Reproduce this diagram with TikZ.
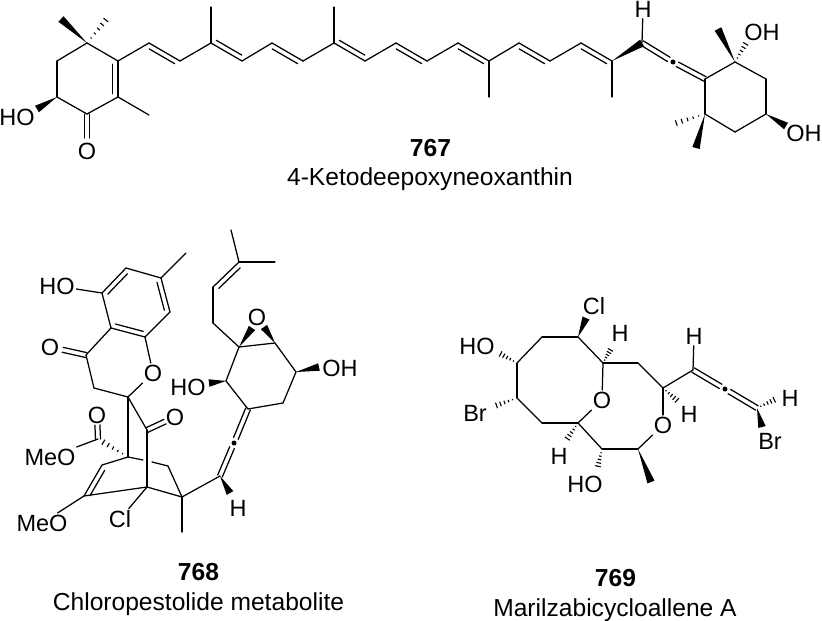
\documentclass[tikz,border=0pt]{standalone}
\usepackage{fontspec}
\setmainfont{Liberation Sans}
\usetikzlibrary{calc}

\newcommand{\dbl}[3]{
	\draw[bond] (#1) -- (#2);
	\draw[bond] ($(#1)!.09!(#2)!#3!90:(#2)$) -- ($(#2)!.09!(#1)!#3!-90:(#1)$);
}
\newcommand{\symbond}[3][]{
	\draw[bond,#1] ($(#2)!2.5pt!90:(#3)$) -- ($(#3)!2.5pt!-90:(#2)$);
	\draw[bond,#1] ($(#2)!2.5pt!-90:(#3)$) -- ($(#3)!2.5pt!90:(#2)$);
}
\newcommand{\wedgebond}[2]{
	\fill ($(#2)!3.8pt!90:(#1)$) -- (#1) -- ($(#2)!3.8pt!-90:(#1)$) -- cycle;
}
\newcommand{\hashbond}[2]{
	\foreach \q in {.18,.34,.5,.66,.82,1} {
		\draw[line width=1.1pt] ($(#1)!\q!(#2)!\q*3.6pt!90:(#2)$) -- ($(#1)!\q!(#2)!\q*3.6pt!-90:(#2)$);
	}
}

\begin{document}
\begin{tikzpicture}[x=1pt,y=-1pt]
	\tikzstyle{bond} = [line width=1.25pt, line cap=round]
	\tikzstyle{atom} = [font=\fontsize{23.5}{26}\selectfont, inner sep=1.5pt]
	\tikzstyle{title} = [font=\fontsize{24.6}{27}\selectfont, inner sep=0pt, anchor=base]
	\useasboundingbox (0,0) rectangle (822,621);

	% 767
	\foreach \n/\x/\y in {k1/87/43,k2/118/61,k3/118/97,k4/87/114,k5/57/97,k6/57/61,
		kme1/61/19,kme2/110/15,kme3/149/115,kho/37/109,
		p1/149/43,p2/180/61,p3/211/43,p4/242/61,p5/272/43,p6/303/61,p7/334/43,p8/365/61,
		p9/396/43,p10/427/61,p11/458/43,p12/489/61,p13/519/43,p14/550/61,p15/581/43,p16/612/61,p17/642/43,
		pm3/211/7,pm7/334/7,pm12/489/97,pm16/612/97,pdot/673/62,
		n1/705/79,n2/735/62,n3/766/79,n4/766/114,n5/735/132,n6/705/114,
		nme1/718/29,nme2/670/125,nme3/696/148,nhy1/748/40,nhy2/786/126} {
		\coordinate (\n) at (\x,\y);
	}
	\node[atom] (ho1) at (17,117) {HO};
	\node[atom] (o1) at (87,151) {O};
	\node[atom] (h1) at (643,9) {H};
	\node[atom] (oh1) at (762,32) {OH};
	\node[atom] (oh2) at (804,133) {OH};
	\node[title] (t1) at (430.5,156.7) {\bfseries 767};
	\node[title] (n767) at (430,185.7) {4-Ketodeepoxyneoxanthin};

	\foreach \a/\b in {k1/k2,k3/k4,k4/k5,k5/k6,k6/k1,k3/kme3,k2/p1,p2/p3,p4/p5,p6/p7,p8/p9,p10/p11,p12/p13,p14/p15,
		p3/pm3,p7/pm7,p12/pm12,p16/pm16,p17/h1,n1/n2,n2/n3,n3/n4,n4/n5,n5/n6,n6/n1} {
		\draw[bond] (\a) -- (\b);
	}
	\dbl{k2}{k3}{-5.5pt}
	\foreach \a/\b/\d in {p1/p2/-5pt,p3/p4/5pt,p5/p6/-5pt,p7/p8/5pt,p9/p10/-5pt,p11/p12/-5pt,p13/p14/-5pt,p15/p16/-5pt} {
		\dbl{\a}{\b}{\d}
	}
	\symbond[shorten >=13pt]{k4}{o1}
	\symbond[shorten >=5pt]{p17}{pdot}
	\symbond[shorten >=5pt]{n1}{pdot}
	\fill (pdot) circle (2.5pt);
	\wedgebond{k1}{kme1}
	\hashbond{k1}{kme2}
	\wedgebond{k5}{kho}
	\wedgebond{p16}{p17}
	\wedgebond{n2}{nme1}
	\hashbond{n2}{nhy1}
	\wedgebond{n4}{nhy2}
	\hashbond{n6}{nme2}
	\wedgebond{n6}{nme3}

	% 768
	\foreach \n/\x/\y in {a1/102/293,a2/126/268,a3/161/278,a4/170/312,a5/145/337,a6/111/328,ame/186/253,
		b1/86/355,b2/94/388,b3/128/397,
		c1/128/457,c2/98/439,c3/102/465,c4/84/496,c5/147/430,c6/147/487,c7/182/497,c8/182/532,
		g1/143/460,g2/152/462,c9/168/466,c10/220/476,cw/230/493,cdot/234/443,
		r1/248/409,r2/283/403,r3/296/372,r4/275/343,r5/239/347,r6/226/381,
		rw1/319/367,rw2/209/383,rw3/252/328,rw4/264/327,
		s1/213/323,s2/213/287,s3/239/262,s4/275/262,s5/231/230} {
		\coordinate (\n) at (\x,\y);
	}
	\node[atom] (ho2) at (57,286) {HO};
	\node[atom] (o2) at (50,347) {O};
	\node[atom] (o3) at (153,373) {O};
	\node[atom] (o4) at (175,417) {O};
	\node[atom] (o5) at (97,415) {O};
	\node[atom] (meo1) at (50,457) {MeO};
	\node[atom] (meo2) at (42,523) {MeO};
	\node[atom] (cl1) at (120,519) {Cl};
	\node[atom] (h2) at (238,508) {H};
	\node[atom] (ho3) at (188,387) {HO};
	\node[atom] (oh3) at (340,368) {OH};
	\node[atom] (o6) at (257,317) {O};
	\node[title] (t2) at (198.5,580.7) {\bfseries 768};
	\node[title] (n768) at (198.5,610.7) {Chloropestolide metabolite};

	\foreach \a/\b in {a2/a3,a4/a5,a6/a1,a3/ame,a1/ho2,a6/b1,b1/b2,b2/b3,b3/o3,o3/a5,b3/c1,b3/c5,c5/c6,
		c2/meo1,c1/c3,c4/meo2,c4/c6,c6/cl1,c1/g1,g2/c9,c9/c7,c6/c7,c7/c8,c7/c10,
		r1/r2,r2/r3,r3/r4,r4/r5,r5/r6,r6/r1,r5/s1,s1/s2,s3/s4,s3/s5} {
		\draw[bond] (\a) -- (\b);
	}
	\foreach \a/\b/\d in {a1/a2/-5pt,a3/a4/-5pt,a5/a6/-5pt,c3/c4/5pt,s2/s3/-5pt} {
		\dbl{\a}{\b}{\d}
	}
	\symbond[shorten >=13pt]{b1}{o2}
	\symbond[shorten >=11pt]{c5}{o4}
	\symbond[shorten >=10pt]{c2}{o5}
	\symbond[shorten >=5pt]{c10}{cdot}
	\symbond[shorten >=5pt]{r1}{cdot}
	\fill (cdot) circle (2.5pt);
	\hashbond{c1}{c2}
	\wedgebond{c10}{cw}
	\wedgebond{r3}{rw1}
	\wedgebond{r6}{rw2}
	\wedgebond{r5}{rw3}
	\wedgebond{r4}{rw4}

	% 769
	\foreach \n/\x/\y in {d1/578/337,d2/542/337,d3/517/363,d4/517/398,d5/542/423,d6/578/423,d7/603/363,
		d8/602/449,d9/638/449,d10/663/388,d11/638/363,d12/693/370,d13/757/408,ddot/725/389,
		dw1/586/318,dw2/651/482,dw3/762/427,
		dh1/612/347,dh2/497/352,dh3/492/407,dh4/565/442,dh5/597/470,dh6/680/403,dh7/778/398} {
		\coordinate (\n) at (\x,\y);
	}
	\node[atom] (cl2) at (594,306) {Cl};
	\node[atom] (h3) at (620,333) {H};
	\node[atom] (ho4) at (477,346) {HO};
	\node[atom] (br1) at (475,413) {Br};
	\node[atom] (o7) at (602,400) {O};
	\node[atom] (h4) at (559,456) {H};
	\node[atom] (ho5) at (585,484) {HO};
	\node[atom] (o8) at (663,425) {O};
	\node[atom] (h5) at (689,414) {H};
	\node[atom] (h6) at (694,336) {H};
	\node[atom] (h7) at (790,398) {H};
	\node[atom] (br2) at (770,441) {Br};
	\node[title] (t3) at (615.5,586) {\bfseries 769};
	\node[title] (n769) at (615,616) {Marilzabicycloallene A};

	\foreach \a/\b in {d1/d2,d2/d3,d3/d4,d4/d5,d5/d6,d6/o7,o7/d7,d7/d1,d6/d8,d8/d9,d9/o8,o8/d10,d10/d11,d11/d7,d10/d12,d12/h6} {
		\draw[bond] (\a) -- (\b);
	}
	\symbond[shorten >=5pt]{d12}{ddot}
	\symbond[shorten >=5pt]{d13}{ddot}
	\fill (ddot) circle (2.5pt);
	\wedgebond{d1}{dw1}
	\wedgebond{d9}{dw2}
	\wedgebond{d13}{dw3}
	\hashbond{d7}{dh1}
	\hashbond{d3}{dh2}
	\hashbond{d4}{dh3}
	\hashbond{d6}{dh4}
	\hashbond{d8}{dh5}
	\hashbond{d10}{dh6}
	\hashbond{d13}{dh7}
\end{tikzpicture}
\end{document}
